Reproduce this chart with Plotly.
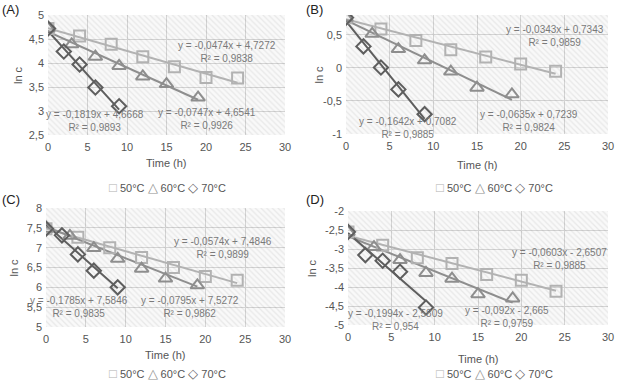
import plotly.graph_objects as go

# ---------------- data ----------------
temps = ["50°C", "60°C", "70°C"]
t50 = [0, 4, 8, 12, 16, 20, 24]
t60 = [0, 3, 6, 9, 12, 15, 19]
t70 = [0, 2, 4, 6, 9]

A50 = [4.72, 4.56, 4.39, 4.13, 3.92, 3.70, 3.69]
A60 = [4.72, 4.39, 4.13, 3.94, 3.72, 3.56, 3.28]
A70 = [4.72, 4.24, 3.97, 3.49, 3.10]

B50 = [0.76, 0.59, 0.415, 0.275, 0.165, 0.06, -0.05]
B60 = [0.76, 0.515, 0.285, 0.115, -0.055, -0.30, -0.40]
B70 = [0.76, 0.325, 0.005, -0.325, -0.70]

C50 = [7.48, 7.26, 7.00, 6.75, 6.50, 6.27, 6.18]
C60 = [7.48, 7.30, 6.99, 6.72, 6.47, 6.22, 6.05]
C70 = [7.48, 7.31, 6.83, 6.42, 6.00]

D50 = [-2.55, -2.90, -3.23, -3.38, -3.67, -3.82, -4.11]
D60 = [-2.55, -2.95, -3.29, -3.63, -3.78, -4.19, -4.30]
D70 = [-2.55, -3.16, -3.31, -3.60, -4.54]

# trendline equations (slope, intercept, R2) per panel, order 50/60/70
slopes_A = [-0.0474, -0.0747, -0.1819]
inter_A = [4.7272, 4.6541, 4.6668]
r2_A = [0.9838, 0.9926, 0.9893]
slopes_B = [-0.0343, -0.0635, -0.1642]
inter_B = [0.7343, 0.7239, 0.7082]
r2_B = [0.9859, 0.9824, 0.9885]
slopes_C = [-0.0574, -0.0795, -0.1785]
inter_C = [7.4846, 7.5272, 7.5846]
r2_C = [0.9899, 0.9862, 0.9835]
slopes_D = [-0.0603, -0.092, -0.1994]
inter_D = [-2.6507, -2.665, -2.5809]
r2_D = [0.9885, 0.9759, 0.954]

panel_labels = ["(A)", "(B)", "(C)", "(D)"]
x_title = "Time (h)"
y_title = "ln c"
x_ticks = [0, 5, 10, 15, 20, 25, 30]
y_ticks_A = [2.5, 3, 3.5, 4, 4.5, 5]
y_ticks_B = [-1, -0.5, 0, 0.5]
y_ticks_C = [5, 5.5, 6, 6.5, 7, 7.5, 8]
y_ticks_D = [-5, -4.5, -4, -3.5, -3, -2.5, -2]

# ---------------- style ----------------
colors = ["#b2b2b2", "#8e8e8e", "#5e5e5e"]
symbols = ["square-open", "triangle-up-open", "diamond-open"]
msizes = [11, 12, 11]
legend_glyphs = ["□", "△", "◇"]
FONT = "Liberation Sans, Arial, sans-serif"
TXT = "#555555"
W, H = 617, 386

def fx(px):
    return px / W

def fy(py):
    return 1 - py / H

panels = [
    dict(t=[t50, t60, t70], y=[A50, A60, A70], m=slopes_A, b=inter_A, r=r2_A,
         yr=[2.5, 5], yt=y_ticks_A, dom=((48, 285), (15, 135)),
         xt=163, yl=18, lab=(0, 0),
         ann=[(22.7, 4.22), (20.1, 2.83), (5.9, 2.79)]),
    dict(t=[t50, t60, t70], y=[B50, B60, B70], m=slopes_B, b=inter_B, r=r2_B,
         yr=[-1, 0.8], yt=y_ticks_B, dom=((346, 608), (15, 134)),
         xt=165, yl=318, lab=(304, 0),
         ann=[(23.9, 0.475), (21.0, -0.80), (7.1, -0.91)]),
    dict(t=[t50, t60, t70], y=[C50, C60, C70], m=slopes_C, b=inter_C, r=r2_C,
         yr=[5, 8], yt=y_ticks_C, dom=((46, 285), (208, 327)),
         xt=355, yl=13, lab=(0, 190),
         ann=[(22.2, 6.99), (18.1, 5.50), (4.2, 5.50)]),
    dict(t=[t50, t60, t70], y=[D50, D60, D70], m=slopes_D, b=inter_D, r=r2_D,
         yr=[-5, -2], yt=y_ticks_D, dom=((348, 608), (211, 325)),
         xt=359, yl=312, lab=(304, 190),
         ann=[(24.4, -3.27), (18.3, -4.80), (5.5, -4.88)]),
]

def fmt(v):
    return f"{v:g}".replace(".", ",")

fig = go.Figure()
annotations = []

for i, p in enumerate(panels):
    k = "" if i == 0 else str(i + 1)
    xa, ya = "x" + k, "y" + k
    (x0, x1), (y0, y1) = p["dom"]
    # hatched plot background
    fig.add_trace(go.Scatter(
        x=[x_ticks[0], x_ticks[-1], x_ticks[-1], x_ticks[0], x_ticks[0]],
        y=[p["yr"][0], p["yr"][0], p["yr"][1], p["yr"][1], p["yr"][0]],
        xaxis=xa, yaxis=ya, mode="lines", line=dict(width=0, color="rgba(0,0,0,0)"),
        fill="toself", fillcolor="rgba(0,0,0,0.04)",
        fillpattern=dict(shape="\\", fgcolor="rgba(0,0,0,0.13)",
                         bgcolor="rgba(0,0,0,0.025)", size=4, solidity=0.3),
        hoverinfo="skip", showlegend=False))
    for j in range(3):
        tt = p["t"][j]
        xs = [tt[0], tt[-1]]
        ys = [p["m"][j] * x + p["b"][j] for x in xs]
        fig.add_trace(go.Scatter(x=xs, y=ys, xaxis=xa, yaxis=ya, mode="lines",
                                 line=dict(color=colors[j], width=2),
                                 showlegend=False, hoverinfo="skip"))
    for j in range(3):
        fig.add_trace(go.Scatter(x=p["t"][j], y=p["y"][j], xaxis=xa, yaxis=ya,
                                 mode="markers", name=temps[j],
                                 marker=dict(symbol=symbols[j], size=msizes[j],
                                             color=colors[j],
                                             line=dict(width=2, color=colors[j])),
                                 showlegend=False))
    for j in range(3):
        m, b, r = p["m"][j], p["b"][j], p["r"][j]
        sign = "+" if b >= 0 else "-"
        txt = f"y = {fmt(m)}x {sign} {fmt(abs(b))}<br>R² = {fmt(r)}"
        ax_, ay_ = p["ann"][j]
        annotations.append(dict(x=ax_, y=ay_, xref=xa, yref=ya, text=txt,
                                showarrow=False, align="center",
                                font=dict(family=FONT, size=10, color="#7a7a7a")))
    axis_common = dict(showline=False, zeroline=False, showgrid=True,
                       gridcolor="#d9d9d9", gridwidth=1, ticks="",
                       automargin=False,
                       tickfont=dict(family=FONT, size=11, color=TXT))
    fig.layout["xaxis" + k] = dict(
        domain=[fx(x0), fx(x1)], anchor=ya, range=[x_ticks[0], x_ticks[-1]],
        tickvals=x_ticks, ticktext=[fmt(v) for v in x_ticks],
        ticklabelstandoff=4, **axis_common)
    fig.layout["yaxis" + k] = dict(
        domain=[fy(y1), fy(y0)], anchor=xa, range=p["yr"],
        tickvals=p["yt"], ticktext=[fmt(v) for v in p["yt"]],
        ticklabelstandoff=3, **axis_common)
    # axis titles
    annotations.append(dict(x=fx((x0 + x1) / 2), y=fy(p["xt"]), xref="paper",
                            yref="paper", xanchor="center", yanchor="middle",
                            text=x_title, showarrow=False,
                            font=dict(family=FONT, size=11, color=TXT)))
    annotations.append(dict(x=fx(p["yl"]), y=fy((y0 + y1) / 2), xref="paper",
                            yref="paper", xanchor="center", yanchor="middle",
                            text=y_title, textangle=-90, showarrow=False,
                            font=dict(family=FONT, size=11, color=TXT)))
    # panel label
    lx, ly = p["lab"]
    annotations.append(dict(x=fx(lx), y=fy(ly), xref="paper", yref="paper",
                            xanchor="left", yanchor="top", text=panel_labels[i],
                            showarrow=False,
                            font=dict(family=FONT, size=13, color="#222222")))

# legends (one under each panel)
leg_text = " ".join(
    f"<span style='color:{c};font-size:13px'>{g}</span> {t}"
    for c, g, t in zip(colors, legend_glyphs, temps))
for lx, ly in [(168, 188), (494, 188), (168, 373), (494, 373)]:
    annotations.append(dict(x=fx(lx), y=fy(ly), xref="paper", yref="paper",
                            xanchor="center", yanchor="middle", text=leg_text,
                            showarrow=False,
                            font=dict(family=FONT, size=11, color=TXT)))

fig.update_layout(width=W, height=H, autosize=False,
                  margin=dict(l=0, r=0, t=0, b=0),
                  paper_bgcolor="white", plot_bgcolor="white",
                  showlegend=False, annotations=annotations,
                  font=dict(family=FONT))

fig.write_html("out.html", config={"displayModeBar": False},
               post_script="document.body.style.margin='0';"
                           "document.body.style.overflow='hidden';")
